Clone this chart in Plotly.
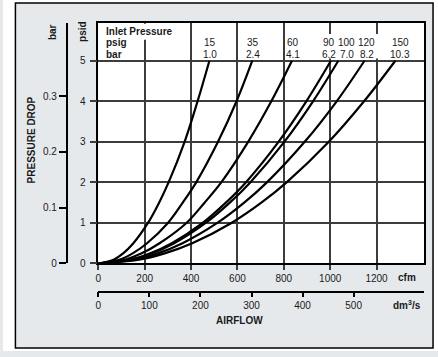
import plotly.graph_objects as go

# ---------------- data ----------------
psid_levels = [0, 0.1, 0.25, 0.5, 1, 1.5, 2, 3, 4, 5]
cfm_15 = [0, 68, 107, 151, 214, 262, 303, 372, 428, 479]
cfm_35 = [0, 94, 148, 210, 300, 364, 422, 516, 596, 664]
cfm_60 = [0, 118, 187, 264, 380, 458, 530, 646, 746, 835]
cfm_90 = [0, 142, 224, 317, 450, 550, 636, 777, 897, 1003]
cfm_100 = [0, 146, 231, 327, 463, 567, 655, 802, 926, 1035]
cfm_120 = [0, 162, 257, 363, 513, 629, 727, 890, 1028, 1148]
cfm_150 = [0, 181, 286, 405, 574, 703, 812, 994, 1146, 1281]

inlet_psig = ["15", "35", "60", "90", "100", "120", "150"]
inlet_bar = ["1.0", "2.4", "4.1", "6.2", "7.0", "8.2", "10.3"]

cfm_ticks = [0, 200, 400, 600, 800, 1000, 1200]
dm3s_ticks = [0, 100, 200, 300, 400, 500]
psid_ticks = [0, 1, 2, 3, 4, 5]
bar_ticks = [0, 0.1, 0.2, 0.3]
bar_tick_text = ["0", "0.1", "0.2", "0.3"]

# label anchor positions (cfm) for the inlet pressure header
label_cfm = [480, 669, 840, 994, 1071, 1157, 1303]

curves = [cfm_15, cfm_35, cfm_60, cfm_90, cfm_100, cfm_120, cfm_150]

# ---------------- layout helpers ----------------
W, H = 438, 357
def px(x):
    return x / W
def py(y):
    return 1 - y / H

FONT = "Liberation Sans, Arial, Helvetica, sans-serif"
TXT = "#1a1a1a"
GRID = "#3c3c3c"
GRAY = "#e6e9ec"

fig = go.Figure()
for c in curves:
    fig.add_trace(go.Scatter(
        x=c, y=psid_levels, mode="lines",
        line=dict(color="black", width=2.2, shape="spline", smoothing=1.0),
        hoverinfo="skip", showlegend=False))

# dummy traces to activate secondary axes
fig.add_trace(go.Scatter(x=[0], y=[0], xaxis="x2", yaxis="y", mode="markers",
                         marker=dict(opacity=0), hoverinfo="skip", showlegend=False))
fig.add_trace(go.Scatter(x=[0], y=[0], xaxis="x", yaxis="y2", mode="markers",
                         marker=dict(opacity=0), hoverinfo="skip", showlegend=False))

tickfont = dict(family=FONT, size=10, color=TXT)

fig.update_layout(
    width=W, height=H,
    margin=dict(l=0, r=0, t=0, b=0),
    paper_bgcolor=GRAY, plot_bgcolor="white",
    showlegend=False,
    font=dict(family=FONT, size=10, color=TXT),
    xaxis=dict(domain=[px(96), px(424)], range=[0, 1405], tickvals=cfm_ticks,
               ticks="outside", ticklen=5, tickwidth=1.5, tickcolor=GRID,
               showgrid=True, gridcolor=GRID, gridwidth=1.5,
               showline=True, linecolor="black", linewidth=1.5, mirror=True,
               zeroline=False, tickfont=tickfont, anchor="y", fixedrange=True),
    yaxis=dict(domain=[py(268), py(23)], range=[0, 5.94], tickvals=psid_ticks,
               ticks="outside", ticklen=7, tickwidth=1.5, tickcolor=GRID,
               showgrid=True, gridcolor=GRID, gridwidth=1.5,
               showline=True, linecolor="black", linewidth=1.5, mirror=True,
               zeroline=False, tickfont=tickfont, anchor="x", fixedrange=True,
               ticklabelstandoff=2),
    xaxis2=dict(overlaying="x", anchor="free", position=py(296.7), side="bottom",
                range=[0, 638], tickvals=dm3s_ticks, ticks="outside", ticklen=5,
                tickwidth=1.5, tickcolor="black",
                showline=True, linecolor="black", linewidth=1.5,
                showgrid=False, zeroline=False, tickfont=tickfont, fixedrange=True),
    yaxis2=dict(overlaying="y", anchor="free", position=px(64), side="left",
                range=[0, 0.4315], tickvals=bar_ticks, ticktext=bar_tick_text,
                ticks="outside", ticklen=7, tickwidth=1.5, tickcolor="black",
                showline=True, linecolor="black", linewidth=1.5,
                showgrid=False, zeroline=False, tickfont=tickfont, fixedrange=True),
)

# outer white margin strips + frame + white covers behind header text
shapes = []
for (x0, x1, y0, y1) in [(0, 12.5, 0, H), (433, W, 0, H), (0, W, 0, 3), (0, W, 354, H)]:
    shapes.append(dict(type="rect", xref="paper", yref="paper",
                       x0=px(x0), x1=px(x1), y0=py(y1), y1=py(y0),
                       fillcolor="white", line=dict(width=0), layer="below"))
shapes.append(dict(type="rect", xref="paper", yref="paper",
                   x0=px(12.5), x1=px(433), y0=py(354), y1=py(3),
                   line=dict(color="black", width=1.5), layer="below"))
for (x0, x1, y0, y1) in [(99, 176, 24.2, 40.5), (318, 382, 34.5, 59.5)]:
    shapes.append(dict(type="rect", xref="paper", yref="paper",
                       x0=px(x0), x1=px(x1), y0=py(y1), y1=py(y0),
                       fillcolor="white", line=dict(width=0), layer="above"))
fig.update_layout(shapes=shapes)

ann = []
bold = dict(family=FONT, size=10, color=TXT)
ann.append(dict(text="<b>Inlet Pressure</b>", xref="paper", yref="paper",
                x=px(102), y=py(32), xanchor="left", yanchor="middle",
                showarrow=False, font=bold))
ann.append(dict(text="<b>psig</b>", xref="paper", yref="paper",
                x=px(102), y=py(43.7), xanchor="left", yanchor="middle",
                showarrow=False, font=bold))
ann.append(dict(text="<b>bar</b>", xref="paper", yref="paper",
                x=px(102), y=py(55), xanchor="left", yanchor="middle",
                showarrow=False, font=bold))
for xc, p, b in zip(label_cfm, inlet_psig, inlet_bar):
    ann.append(dict(text=p, xref="x", yref="paper", x=xc, y=py(43.7),
                    xanchor="center", yanchor="middle", showarrow=False,
                    font=dict(family=FONT, size=10, color=TXT)))
    ann.append(dict(text=b, xref="x", yref="paper", x=xc, y=py(55),
                    xanchor="center", yanchor="middle", showarrow=False,
                    font=dict(family=FONT, size=10, color=TXT)))

ann.append(dict(text="<b>cfm</b>", xref="paper", yref="paper", x=px(407), y=py(282.5),
                xanchor="center", yanchor="middle", showarrow=False, font=bold))
ann.append(dict(text="<b>dm<sup>3</sup>/s</b>", xref="paper", yref="paper",
                x=px(407), y=py(310), xanchor="center", yanchor="middle",
                showarrow=False, font=bold))
ann.append(dict(text="<b>AIRFLOW</b>", xref="paper", yref="paper", x=px(238), y=py(326),
                xanchor="center", yanchor="middle", showarrow=False, font=bold))
ann.append(dict(text="<b>PRESSURE DROP</b>", xref="paper", yref="paper", x=px(29),
                y=py(142), xanchor="center", yanchor="middle", textangle=-90,
                showarrow=False, font=bold))
ann.append(dict(text="<b>bar</b>", xref="paper", yref="paper", x=px(50), y=py(33),
                xanchor="center", yanchor="middle", textangle=-90,
                showarrow=False, font=bold))
ann.append(dict(text="<b>psid</b>", xref="paper", yref="paper", x=px(80), y=py(32),
                xanchor="center", yanchor="middle", textangle=-90,
                showarrow=False, font=bold))
fig.update_layout(annotations=ann)

fig.write_html("out.html",
               config={"displayModeBar": False},
               post_script="document.body.style.margin='0px';"
                           "document.body.style.overflow='hidden';")
